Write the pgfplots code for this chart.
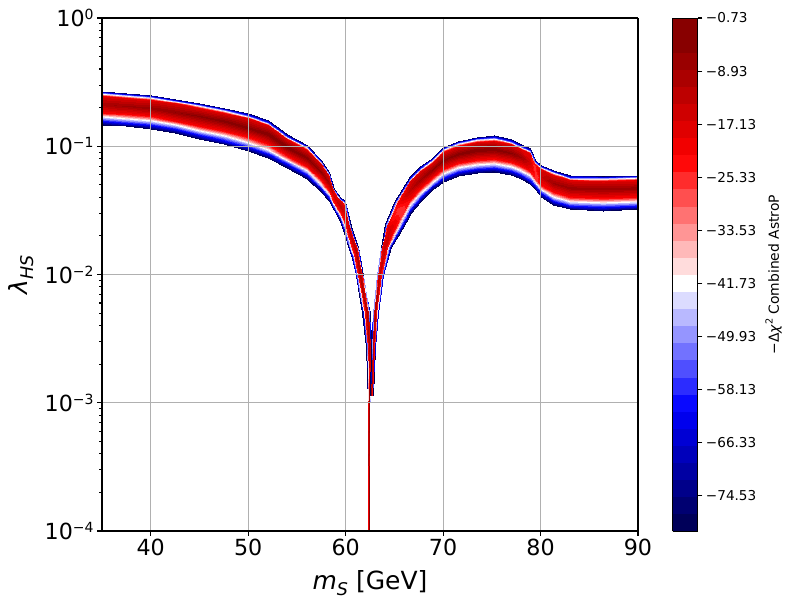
\documentclass[border=0pt]{standalone}
\usepackage{fontspec}
\setmainfont{DejaVu Sans}
\usepackage{pgfplots}
\pgfplotsset{compat=1.18}
\definecolor{gridgray}{RGB}{176,176,176}
\pgfplotsset{colormap={seis}{
rgb=(0,0,0.348) rgb=(0,0,0.445) rgb=(0,0,0.541) rgb=(0,0,0.638) rgb=(0,0,0.734) rgb=(0,0,0.831) rgb=(0,0,0.928)
rgb=(0.034,0.034,1) rgb=(0.172,0.172,1) rgb=(0.310,0.310,1) rgb=(0.448,0.448,1) rgb=(0.586,0.586,1) rgb=(0.724,0.724,1) rgb=(0.862,0.862,1)
rgb=(1,1,1)
rgb=(1,0.862,0.862) rgb=(1,0.724,0.724) rgb=(1,0.586,0.586) rgb=(1,0.448,0.448) rgb=(1,0.310,0.310) rgb=(1,0.172,0.172) rgb=(1,0.034,0.034)
rgb=(0.948,0,0) rgb=(0.879,0,0) rgb=(0.810,0,0) rgb=(0.741,0,0) rgb=(0.672,0,0) rgb=(0.603,0,0) rgb=(0.534,0,0)
rgb=(0.534,0,0)}}
\newcommand{\tsup}[1]{\raisebox{7pt}{\fontsize{14pt}{15pt}\selectfont #1}}
\newcommand{\lsub}[1]{\raisebox{-0.22em}{\fontsize{17.5pt}{18pt}\selectfont #1}}
\begin{document}
\begin{tikzpicture}
\path[use as bounding box] (0,0) rectangle (800pt,600pt);
\begin{axis}[
  at={(102pt,69pt)}, anchor=south west,
  scale only axis, width=536pt, height=513pt,
  view={0}{90},
  xmin=35, xmax=90, ymin=-4, ymax=0,
  xtick={40,50,60,70,80,90},
  xticklabels={40,50,60,70,80,90},
  ytick={-4,-3,-2,-1,0},
  yticklabels={10\tsup{−4},10\tsup{−3},10\tsup{−2},10\tsup{−1},10\tsup{0}},
  minor ytick={-3.69897,-3.52288,-3.39794,-3.30103,-3.22185,-3.15490,-3.09691,-3.04576,
   -2.69897,-2.52288,-2.39794,-2.30103,-2.22185,-2.15490,-2.09691,-2.04576,
   -1.69897,-1.52288,-1.39794,-1.30103,-1.22185,-1.15490,-1.09691,-1.04576,
   -0.69897,-0.52288,-0.39794,-0.30103,-0.22185,-0.15490,-0.09691,-0.04576},
  ztick=\empty,
  xmajorgrids, ymajorgrids,
  major grid style={gridgray, line width=1.1pt},
  axis on top,
  tick align=outside,
  xtick pos=bottom, ytick pos=left,
  major tick length=4.9pt, minor tick length=2.8pt,
  every tick/.append style={black, line width=1.1pt},
  axis line style={line width=1.1pt},
  tick label style={font=\fontsize{22.2pt}{26pt}\selectfont},
  every axis x label/.style={at={(axis description cs:0.5,0)}, anchor=center, yshift=-52pt, font=\fontsize{25pt}{30pt}\selectfont},
  every axis y label/.style={at={(axis description cs:0,0.5)}, anchor=center, xshift=-81pt, rotate=90, font=\fontsize{25pt}{30pt}\selectfont},
  xlabel={{\itshape m\lsub{S}} [GeV]},
  ylabel={\itshape λ\lsub{HS}},
  colormap name=seis,
  colormap access=piecewise constant,
  point meta min=-80, point meta max=-0.73,
  colorbar,
  colorbar style={
    at={(parent axis.north east)}, anchor=north west, xshift=26pt,
    scale only axis, width=25pt, height=513pt,
    xlabel={}, xtick=\empty, xmajorgrids=false, ymajorgrids=false,
    minor ytick={},
    ytick={-74.53,-66.33,-58.13,-49.93,-41.73,-33.53,-25.33,-17.13,-8.93,-0.73},
    yticklabels={−74.53,−66.33,−58.13,−49.93,−41.73,−33.53,−25.33,−17.13,−8.93,−0.73},
    ytick pos=right, yticklabel pos=right,
    tick align=outside, major tick length=4.9pt,
    tick label style={font=\fontsize{13.6pt}{16pt}\selectfont},
    every axis y label/.style={at={(axis description cs:1,0.5)}, anchor=center, xshift=76pt, rotate=90, font=\fontsize{13.9pt}{16pt}\selectfont},
    ylabel={−Δ{\itshape χ}\raisebox{0.45em}{\fontsize{9.7pt}{10pt}\selectfont 2} Combined AstroP},
  },
]
% left band and left branch of the dip
\addplot3[surf, shader=interp] table {
35 -0.834 -80
35 -0.813 -66
35 -0.789 -52
35 -0.768 -40
35 -0.739 -22
35 -0.670 -9
35 -0.606 -18
35 -0.588 -50
35 -0.569 -78

37.5 -0.846 -80
37.5 -0.825 -66
37.5 -0.802 -52
37.5 -0.781 -40
37.5 -0.752 -22
37.5 -0.684 -8
37.5 -0.622 -18
37.5 -0.603 -50
37.5 -0.585 -78

40 -0.862 -80
40 -0.841 -66
40 -0.818 -52
40 -0.797 -40
40 -0.768 -22
40 -0.700 -7
40 -0.637 -18
40 -0.618 -50
40 -0.600 -78

42.5 -0.897 -80
42.5 -0.876 -66
42.5 -0.851 -52
42.5 -0.830 -40
42.5 -0.800 -22
42.5 -0.730 -6
42.5 -0.666 -18
42.5 -0.647 -50
42.5 -0.628 -78

45 -0.940 -80
45 -0.918 -66
45 -0.893 -52
45 -0.871 -40
45 -0.840 -22
45 -0.768 -5
45 -0.702 -18
45 -0.682 -50
45 -0.663 -78

47.5 -0.986 -80
47.5 -0.963 -66
47.5 -0.937 -52
47.5 -0.914 -40
47.5 -0.882 -22
47.5 -0.807 -4
47.5 -0.738 -18
47.5 -0.718 -50
47.5 -0.698 -78

50 -1.037 -80
50 -1.013 -66
50 -0.987 -52
50 -0.963 -40
50 -0.930 -22
50 -0.854 -4
50 -0.782 -18
50 -0.762 -50
50 -0.741 -78

52 -1.092 -80
52 -1.068 -66
52 -1.042 -52
52 -1.018 -40
52 -0.985 -22
52 -0.908 -3
52 -0.837 -18
52 -0.816 -50
52 -0.795 -78

54 -1.170 -80
54 -1.149 -66
54 -1.125 -52
54 -1.104 -40
54 -1.075 -22
54 -1.006 -3
54 -0.942 -18
54 -0.924 -50
54 -0.905 -78

56 -1.255 -80
56 -1.234 -66
56 -1.210 -52
56 -1.189 -40
56 -1.160 -22
56 -1.091 -4
56 -1.027 -18
56 -1.009 -50
56 -0.990 -78

57.5 -1.357 -80
57.5 -1.337 -66
57.5 -1.315 -52
57.5 -1.295 -40
57.5 -1.267 -22
57.5 -1.202 -6
57.5 -1.142 -18
57.5 -1.125 -50
57.5 -1.107 -78

58.3 -1.427 -80
58.3 -1.409 -66
58.3 -1.389 -52
58.3 -1.371 -40
58.3 -1.346 -22
58.3 -1.287 -9
58.3 -1.233 -18
58.3 -1.217 -50
58.3 -1.201 -78

58.8 -1.500 -80
58.8 -1.486 -66
58.8 -1.471 -52
58.8 -1.458 -40
58.8 -1.439 -24
58.8 -1.395 -16
58.8 -1.354 -20
58.8 -1.342 -50
58.8 -1.330 -78

59.42 -1.583 -80
59.42 -1.568 -66
59.42 -1.551 -52
59.42 -1.536 -40
59.42 -1.516 -22
59.42 -1.467 -12
59.42 -1.422 -18
59.42 -1.409 -50
59.42 -1.396 -78

59.94 -1.700 -80
59.94 -1.678 -66
59.94 -1.654 -52
59.94 -1.632 -40
59.94 -1.602 -24
59.94 -1.531 -16
59.94 -1.465 -20
59.94 -1.446 -50
59.94 -1.427 -78

60.240 -1.778 -80
60.261 -1.766 -66
60.284 -1.752 -52
60.305 -1.739 -40
60.334 -1.722 -22
60.401 -1.681 -13
60.464 -1.644 -18
60.482 -1.633 -50
60.500 -1.622 -78

60.650 -1.871 -80
60.700 -1.864 -66
60.755 -1.857 -52
60.805 -1.850 -40
60.873 -1.840 -22
61.034 -1.818 -11
61.183 -1.798 -18
61.227 -1.792 -50
61.270 -1.786 -78

61.030 -2.004 -80
61.092 -2.004 -66
61.163 -2.004 -52
61.225 -2.004 -40
61.311 -2.004 -22
61.514 -2.004 -10
61.701 -2.004 -18
61.755 -2.004 -50
61.810 -2.004 -78

61.370 -2.160 -80
61.428 -2.160 -66
61.492 -2.160 -52
61.550 -2.160 -40
61.629 -2.160 -22
61.816 -2.160 -10
61.989 -2.160 -18
62.040 -2.160 -50
62.090 -2.160 -78

61.730 -2.300 -80
61.788 -2.300 -66
61.852 -2.300 -52
61.910 -2.300 -40
61.989 -2.300 -22
62.176 -2.300 -10
62.349 -2.300 -18
62.400 -2.300 -50
62.450 -2.300 -78

62.120 -2.565 -80
62.161 -2.565 -66
62.207 -2.565 -52
62.248 -2.565 -40
62.304 -2.565 -22
62.436 -2.565 -10
62.559 -2.565 -18
62.594 -2.565 -50
62.630 -2.565 -78

62.220 -2.784 -80
62.250 -2.784 -66
62.285 -2.784 -52
62.315 -2.784 -40
62.357 -2.784 -22
62.456 -2.784 -8
62.547 -2.784 -18
62.573 -2.784 -50
62.600 -2.784 -78

62.280 -2.994 -80
62.301 -2.994 -66
62.324 -2.994 -52
62.345 -2.994 -40
62.374 -2.994 -22
62.441 -2.994 -8
62.504 -2.994 -18
62.522 -2.994 -50
62.540 -2.994 -78
};
% right branch of the dip and right band
\addplot3[surf, shader=interp] table {
62.760 -2.940 -80
62.739 -2.940 -66
62.716 -2.940 -52
62.695 -2.940 -40
62.666 -2.940 -22
62.599 -2.940 -8
62.536 -2.940 -18
62.518 -2.940 -50
62.500 -2.940 -78

63.010 -2.565 -80
62.980 -2.565 -66
62.945 -2.565 -52
62.915 -2.565 -40
62.873 -2.565 -22
62.774 -2.565 -10
62.683 -2.565 -18
62.657 -2.565 -50
62.630 -2.565 -78

63.320 -2.300 -80
63.277 -2.300 -66
63.228 -2.300 -52
63.185 -2.300 -40
63.126 -2.300 -22
62.985 -2.300 -10
62.856 -2.300 -18
62.818 -2.300 -50
62.780 -2.300 -78

63.840 -2.004 -80
63.788 -2.004 -66
63.730 -2.004 -52
63.678 -2.004 -40
63.606 -2.004 -22
63.437 -2.004 -12
63.281 -2.004 -18
63.236 -2.004 -50
63.190 -2.004 -78

64.660 -1.786 -80
64.574 -1.786 -66
64.476 -1.786 -52
64.390 -1.786 -40
64.271 -1.786 -22
63.990 -1.786 -14
63.731 -1.786 -18
63.656 -1.786 -50
63.580 -1.786 -78

65.370 -1.700 -80
65.264 -1.693 -66
65.144 -1.684 -52
65.038 -1.677 -40
64.891 -1.666 -22
64.545 -1.642 -16
64.226 -1.619 -20
64.133 -1.613 -50
64.040 -1.606 -78

66.200 -1.591 -80
66.101 -1.579 -66
65.989 -1.565 -52
65.890 -1.552 -40
65.754 -1.535 -26
65.431 -1.494 -27
65.134 -1.457 -22
65.047 -1.446 -50
64.960 -1.435 -78

66.61 -1.528 -80
66.61 -1.504 -66
66.61 -1.478 -52
66.61 -1.454 -40
66.61 -1.421 -22
66.61 -1.345 -12
66.61 -1.273 -18
66.61 -1.253 -50
66.61 -1.232 -78

67.63 -1.435 -80
67.63 -1.413 -66
67.63 -1.387 -52
67.63 -1.365 -40
67.63 -1.334 -22
67.63 -1.261 -8
67.63 -1.193 -18
67.63 -1.174 -50
67.63 -1.154 -78

68.83 -1.341 -80
68.83 -1.321 -66
68.83 -1.299 -52
68.83 -1.279 -40
68.83 -1.251 -22
68.83 -1.187 -6
68.83 -1.127 -18
68.83 -1.109 -50
68.83 -1.092 -78

70 -1.279 -80
70 -1.257 -66
70 -1.233 -52
70 -1.211 -40
70 -1.181 -22
70 -1.110 -5
70 -1.044 -18
70 -1.025 -50
70 -1.006 -78

71.5 -1.232 -80
71.5 -1.210 -66
71.5 -1.186 -52
71.5 -1.164 -40
71.5 -1.134 -22
71.5 -1.063 -4
71.5 -0.997 -18
71.5 -0.978 -50
71.5 -0.959 -78

73.5 -1.205 -80
73.5 -1.183 -66
73.5 -1.158 -52
73.5 -1.136 -40
73.5 -1.105 -22
73.5 -1.033 -3
73.5 -0.967 -18
73.5 -0.947 -50
73.5 -0.928 -78

75.2 -1.201 -80
75.2 -1.178 -66
75.2 -1.153 -52
75.2 -1.130 -40
75.2 -1.098 -22
75.2 -1.024 -3
75.2 -0.956 -18
75.2 -0.936 -50
75.2 -0.916 -78

77 -1.224 -80
77 -1.202 -66
77 -1.176 -52
77 -1.154 -40
77 -1.123 -22
77 -1.050 -5
77 -0.983 -18
77 -0.964 -50
77 -0.944 -78

78 -1.252 -80
78 -1.231 -66
78 -1.206 -52
78 -1.185 -40
78 -1.155 -22
78 -1.085 -8
78 -1.021 -18
78 -1.002 -50
78 -0.983 -78

78.9 -1.298 -80
78.9 -1.275 -66
78.9 -1.250 -52
78.9 -1.227 -40
78.9 -1.196 -22
78.9 -1.122 -15
78.9 -1.054 -20
78.9 -1.034 -50
78.9 -1.014 -78

79.4 -1.333 -80
79.4 -1.315 -66
79.4 -1.295 -52
79.4 -1.277 -40
79.4 -1.252 -26
79.4 -1.193 -27
79.4 -1.139 -24
79.4 -1.123 -50
79.4 -1.107 -78

80 -1.392 -80
80 -1.372 -66
80 -1.350 -52
80 -1.331 -40
80 -1.303 -22
80 -1.240 -14
80 -1.180 -18
80 -1.163 -50
80 -1.146 -78

81.3 -1.458 -80
81.3 -1.436 -66
81.3 -1.412 -52
81.3 -1.390 -40
81.3 -1.360 -22
81.3 -1.289 -8
81.3 -1.223 -18
81.3 -1.204 -50
81.3 -1.185 -78

83 -1.492 -80
83 -1.471 -66
83 -1.447 -52
83 -1.426 -40
83 -1.397 -22
83 -1.328 -7
83 -1.265 -18
83 -1.247 -50
83 -1.228 -78

86.4 -1.503 -80
86.4 -1.481 -66
86.4 -1.457 -52
86.4 -1.435 -40
86.4 -1.405 -22
86.4 -1.335 -7
86.4 -1.270 -18
86.4 -1.251 -50
86.4 -1.232 -78

90 -1.493 -80
90 -1.472 -66
90 -1.447 -52
90 -1.426 -40
90 -1.396 -22
90 -1.326 -7
90 -1.262 -18
90 -1.243 -50
90 -1.224 -78
};
% thin line at the bottom of the dip
\addplot3[surf, shader=interp] table {
62.30 -4 -20
62.40 -4 -5
62.50 -4 -20

62.30 -2.99 -20
62.40 -2.99 -5
62.50 -2.99 -20
};
\end{axis}
\end{tikzpicture}
\end{document}
